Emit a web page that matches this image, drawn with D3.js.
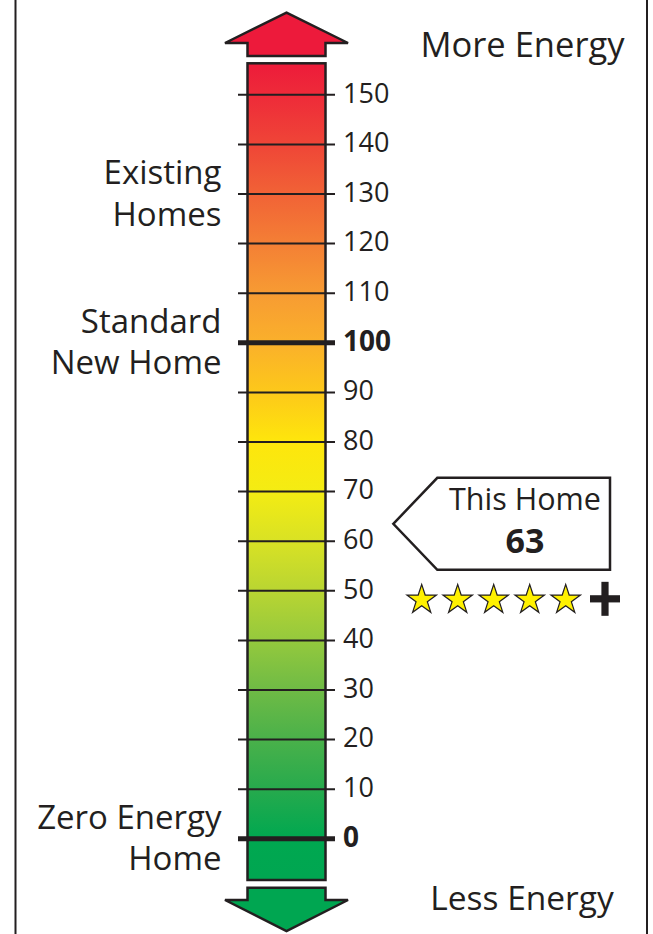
<!DOCTYPE html>
<html><head><meta charset="utf-8">
<script src="https://cdn.jsdelivr.net/npm/d3@7"></script>
<style>html,body{margin:0;padding:0;background:#fff}svg{display:block}text{font-family:"Open Sans",sans-serif;fill:#231F20}</style>
</head><body><div id="chart"></div>
<script>
// ---- data ----
const tickValues = [0, 10, 20, 30, 40, 50, 60, 70, 80, 90, 100, 110, 120, 130, 140, 150];
const majorTicks = [0, 100];
const benchmarkValues = [130, 100, 0];
const benchmarkLabels = [["Existing", "Homes"], ["Standard", "New Home"], ["Zero Energy", "Home"]];
const rating = 63;
const ratingTitle = "This Home";
const starCount = 5;
const starSuffix = "+";
const topLabel = "More Energy";
const bottomLabel = "Less Energy";
const gradientValues = [156, 150, 140, 130, 120, 110, 100, 90, 80, 70, 60, 50, 40, 30, 20, 10, 0, -8];
const gradientColors = ["#ED1C3A", "#EE2A39", "#EF4537", "#F16236", "#F47F35", "#F79B33", "#FAB02B", "#FDC81A", "#FEE60C", "#F4EC13", "#D9E224", "#B9D532", "#95C93D", "#6FBB45", "#4AB14A", "#27AA4D", "#00A850", "#00A651"];

// ---- layout ----
const W = 653, H = 934;
const svg = d3.select("#chart").append("svg").attr("width", W).attr("height", H);
const ink = "#231F20";
const y = d3.scaleLinear().domain([0, 150]).range([838.3, 94.3]);
const barX0 = 247.5, barW = 78, barX1 = barX0 + barW, cx = barX0 + barW / 2;
const barTop = y(150) - 31, barBottom = y(0) + 41.7;

// frame lines
svg.append("line").attr("x1", 15.5).attr("x2", 15.5).attr("y1", 0).attr("y2", H).attr("stroke", ink).attr("stroke-width", 2);
svg.append("line").attr("x1", 647).attr("x2", 647).attr("y1", 0).attr("y2", H).attr("stroke", ink).attr("stroke-width", 2);

// gradient
const defs = svg.append("defs");
const grad = defs.append("linearGradient").attr("id", "g").attr("gradientUnits", "userSpaceOnUse")
  .attr("x1", 0).attr("x2", 0).attr("y1", barTop).attr("y2", barBottom);
grad.selectAll("stop").data(gradientValues).join("stop")
  .attr("offset", v => (y(v) - barTop) / (barBottom - barTop))
  .attr("stop-color", (v, i) => gradientColors[i]);

// bar
svg.append("rect").attr("x", barX0).attr("y", barTop).attr("width", barW).attr("height", barBottom - barTop)
  .attr("fill", "url(#g)").attr("stroke", ink).attr("stroke-width", 2.5);

// arrows
const headHalf = 61.5, shaftHalf = barW / 2;
const upTip = barTop - 50.6, upBase = barTop - 20.3, upShaft = barTop - 7.3;
svg.append("path").attr("d", d3.line()([
  [cx, upTip], [cx + headHalf, upBase], [cx + shaftHalf, upBase], [cx + shaftHalf, upShaft],
  [cx - shaftHalf, upShaft], [cx - shaftHalf, upBase], [cx - headHalf, upBase]]) + "Z")
  .attr("fill", "#ED1A3B").attr("stroke", ink).attr("stroke-width", 2.5).attr("stroke-linejoin", "miter");
const dnShaft = barBottom + 7.7, dnBase = barBottom + 20, dnTip = barBottom + 51;
svg.append("path").attr("d", d3.line()([
  [cx - shaftHalf, dnShaft], [cx + shaftHalf, dnShaft], [cx + shaftHalf, dnBase], [cx + headHalf, dnBase],
  [cx, dnTip], [cx - headHalf, dnBase], [cx - shaftHalf, dnBase]]) + "Z")
  .attr("fill", "#00A651").attr("stroke", ink).attr("stroke-width", 2.5);

// axis ticks across bar
const tickLeft = barX0 - 9.5, tickLen = barW + 19;
const axis = d3.axisRight(y).tickValues(tickValues).tickSize(tickLen).tickPadding(8).tickFormat(d3.format("d"));
const ag = svg.append("g").attr("transform", `translate(${tickLeft},0)`).call(axis);
ag.select(".domain").remove();
ag.selectAll(".tick line").attr("stroke", ink).attr("stroke-width", d => majorTicks.includes(d) ? 5 : 2);
ag.selectAll(".tick text").attr("fill", ink).attr("font-family", "'Open Sans', sans-serif")
  .attr("font-size", d => majorTicks.includes(d) ? 28 : 27)
  .attr("font-weight", d => majorTicks.includes(d) ? "bold" : "normal")
  .attr("dy", "0.29em");

// benchmark labels
benchmarkValues.forEach((v, i) => {
  const t = svg.append("text").attr("text-anchor", "end").attr("font-size", 33);
  benchmarkLabels[i].forEach((line, j) => {
    t.append("tspan").attr("x", 221.5).attr("y", y(v) - 9.5 + j * 41.5).text(line);
  });
});

// top/bottom labels
svg.append("text").attr("x", 522.5).attr("y", 57).attr("text-anchor", "middle").attr("font-size", 34.5).text(topLabel);
svg.append("text").attr("x", 522).attr("y", 910).attr("text-anchor", "middle").attr("font-size", 33.5).text(bottomLabel);

// callout
const ry = y(rating) - 2;
const cTip = 393.3, cBev = 437.3, cRight = 610, cHalf = 46;
svg.append("path").attr("d", d3.line()([[cTip, ry], [cBev, ry - cHalf], [cRight, ry - cHalf], [cRight, ry + cHalf], [cBev, ry + cHalf]]) + "Z")
  .attr("fill", "#fff").attr("stroke", ink).attr("stroke-width", 2.5);
svg.append("text").attr("x", 525).attr("y", ry - 13.5).attr("text-anchor", "middle").attr("font-size", 30.5).text(ratingTitle);
svg.append("text").attr("x", 525).attr("y", ry + 29).attr("text-anchor", "middle").attr("font-size", 34).attr("font-weight", "bold").text(rating);

// stars
const sx = d3.scaleLinear().domain([0, 1]).range([421.7, 457.7]);
const starY = ry + 76;
const star = d3.symbol().type(d3.symbolStar).size(15.5 * 15.5 / 0.8908130915292852);
svg.selectAll(".star").data(d3.range(starCount)).join("path").attr("class", "star")
  .attr("transform", i => `translate(${sx(i)},${starY})`).attr("d", star())
  .attr("fill", "#FFF100").attr("stroke", ink).attr("stroke-width", 1.2).attr("stroke-linejoin", "miter");
// plus
const px = sx(starCount) + 3.3, py = starY - 1;
svg.append("rect").attr("x", px - 15).attr("y", py - 3.6).attr("width", 30).attr("height", 7.2).attr("fill", ink);
svg.append("rect").attr("x", px - 3.6).attr("y", py - 17).attr("width", 7.2).attr("height", 34).attr("fill", ink);
svg.append("text").attr("x", px).attr("y", py).attr("opacity", 0).attr("font-size", 1).text(starSuffix);
</script></body></html>
